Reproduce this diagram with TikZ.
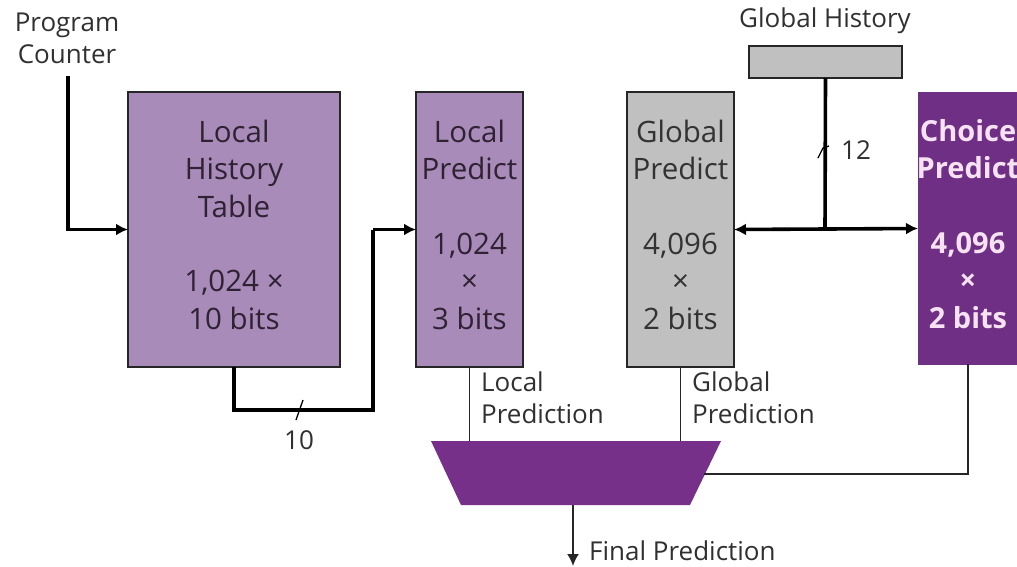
\documentclass[tikz,border=0pt]{standalone}
\usepackage{fontspec}
\setmainfont{Open Sans}
\usetikzlibrary{arrows.meta,calc}
\definecolor{lpurple}{HTML}{A98BBA}
\definecolor{dpurple}{HTML}{6F2F85}
\definecolor{muxc}{HTML}{76308A}
\definecolor{gfill}{HTML}{C0C0C0}
\definecolor{txtd}{HTML}{2E2233}
\definecolor{txtl}{HTML}{F6E2F2}
\definecolor{lbl}{HTML}{303030}
\begin{document}
\begin{tikzpicture}[x=1pt,y=-1pt,
  box/.style={draw=black!85,line width=1.6pt,inner sep=0pt,outer sep=0pt,align=center,
    font=\fontsize{29.5}{37.5}\selectfont,text=txtd},
  lab/.style={font=\fontsize{26}{32}\selectfont,text=lbl,inner sep=0pt,align=left},
  bus/.style={line width=3.6pt,-{Latex[length=12pt,width=12pt]}},
  busline/.style={line width=3.6pt},
  thin/.style={line width=1.8pt,draw=black!85},
]
\useasboundingbox (0,0) rectangle (1017,566);
% labels
\node[lab,align=center] (pc) at (67,38) {Program\\Counter};
\node[lab] (ghl) at (825,21) {Global History};
% boxes
\node[box,fill=lpurple,minimum width=212pt,minimum height=275pt] (lht) at (234,229.5)
  {\\[-25pt]Local\\History\\Table\\[37pt]1,024 ×\\10 bits};
\node[box,fill=lpurple,minimum width=107pt,minimum height=275pt] (lp) at (469.5,229.5)
  {\\[-25pt]Local\\Predict\\[37pt]1,024\\×\\3 bits};
\node[box,fill=gfill,text=black!80,minimum width=107pt,minimum height=275pt] (gp) at (680.5,229.5)
  {\\[-25pt]Global\\Predict\\[37pt]4,096\\×\\2 bits};
\node[box,draw=none,fill=dpurple,minimum width=114pt,minimum height=273pt] (cp) at (975,228.5) {};
\node[align=center,inner sep=0pt,text=txtl,font=\fontsize{29}{37.5}\selectfont\bfseries] (cpt) at ([xshift=-7pt]cp.center)
  {\\[-25pt]Choice\\Predict\\[37pt]4,096\\×\\2 bits};
\node[box,fill=gfill,minimum width=153pt,minimum height=32pt] (gh) at (825.5,62) {};
% mux
\fill[muxc] (431,441) coordinate (mtl) -- (721,441) coordinate (mtr) -- (690,505) coordinate (mbr) -- (461,505) coordinate (mbl) -- cycle;
\coordinate (mux) at (573,505);
% program counter
\coordinate (pcs) at (68,76);
\draw[bus] (pcs) |- (lht.west);
% LHT -> LP
\coordinate (c1) at (234,410);
\coordinate (c2) at (373,410);
\coordinate (c3) at (373,229.5);
\draw[busline] (lht.south) -- (c1) -- (c2) -- (c3);
\draw[bus] (c3) -- (lp.west);
\draw[line width=1.3pt] (296,420) -- (303,400);
\node[lab] (n10) at (299,440) {10};
% global history bus
\coordinate (bj) at (825,229.5);
\draw[busline] (gh.south) -- (bj);
\draw[line width=3.6pt,{Latex[length=12pt,width=12pt]}-{Latex[length=12pt,width=12pt]}] (gp.east) -- (cp.west);
\draw[line width=1.3pt] (818,158) -- (823,148) -- (829,146);
\node[lab] (n12) at (856,150) {12};
% prediction lines
\draw[thin] (lp.south) -- (lp.south |- mtl);
\draw[thin] (gp.south) -- (gp.south |- mtl);
\coordinate (cpb) at (968,364);
\coordinate (cpc) at (968,474);
\coordinate (mr) at (704,474);
\draw[thin] (cpb) -- (cpc) -- (mr);
\node[lab,anchor=north west] (llab) at (481,372) {Local\\Prediction};
\node[lab,anchor=north west] (glab) at (692,372) {Global\\Prediction};
% final
\coordinate (fend) at (573,566);
\draw[thin,-{Latex[length=12pt,width=12pt]}] (mux) -- (fend);
\node[lab,anchor=west] (fl) at (589,551) {Final Prediction};
\end{tikzpicture}
\end{document}
